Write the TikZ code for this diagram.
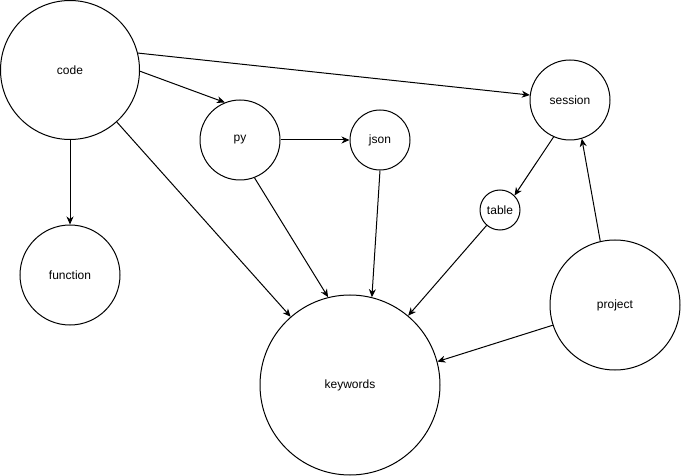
\documentclass[tikz,border=0pt]{standalone}
\usepackage{fontspec}
\setmainfont{Liberation Sans}
\usetikzlibrary{arrows.meta}
\begin{document}
\begin{tikzpicture}[x=1pt,y=-1pt,
  vert/.style={draw,circle,line width=1pt,inner sep=0pt,font=\fontsize{12}{14}\selectfont},
  conn/.style={line width=1pt,-{Stealth[length=8pt,width=7pt,inset=2.5pt]}}]
\useasboundingbox (0,0) rectangle (681,476);
\node[vert,minimum size=139pt] (code) at (70,70) {code};
\node[vert,minimum size=80pt] (py) at (240,140) {py};
\node[vert,minimum size=60pt] (json) at (380,140) {json};
\node[vert,minimum size=80pt] (session) at (570,100) {session};
\node[vert,minimum size=40pt] (table) at (500,210) {table};
\node[vert,minimum size=100pt] (function) at (70,275) {function};
\node[vert,minimum size=180pt] (keywords) at (350,385) {keywords};
\node[vert,minimum size=130pt] (project) at (615,305) {project};
\draw[conn] (code.14.4) -- (session.173);
\draw[conn] (code.-1) -- (py.112);
\draw[conn] (code.south) -- (function.north);
\draw[conn] (code.-48.4) -- (keywords.131.4);
\draw[conn] (py.east) -- (json.west);
\draw[conn] (py.-69.4) -- (keywords.104.3);
\draw[conn] (json.south) -- (keywords.76.4);
\draw[conn] (session.-114) -- (table.45);
\draw[conn] (table.-131) -- (keywords.50.4);
\draw[conn] (project.103) -- (session.-73);
\draw[conn] (project.-162.4) -- (keywords.15.2);
\end{tikzpicture}
\end{document}
